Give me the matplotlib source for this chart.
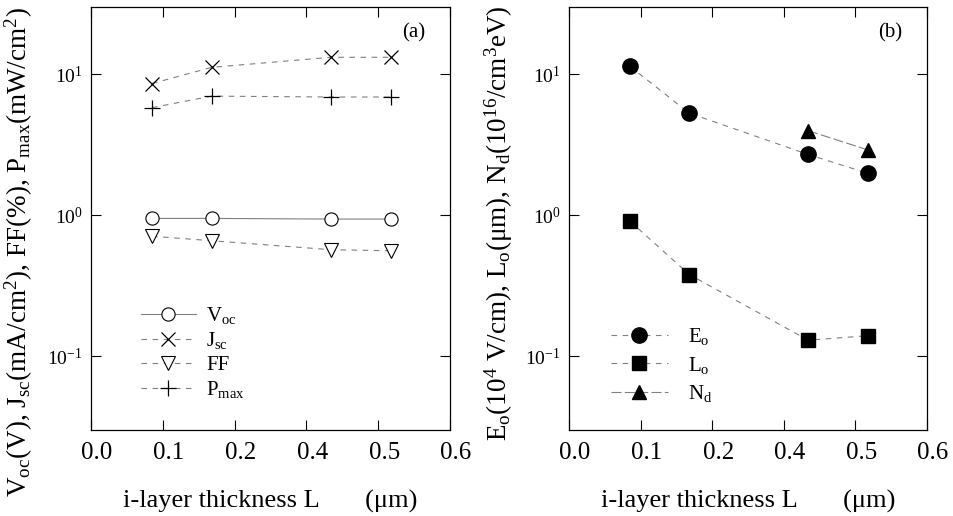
import numpy as np
import matplotlib
matplotlib.use('Agg')
import matplotlib.pyplot as plt
from matplotlib.transforms import ScaledTranslation

plt.rcParams['font.family'] = ['Liberation Serif', 'DejaVu Serif']
plt.rcParams['mathtext.fontset'] = 'custom'
plt.rcParams['mathtext.rm'] = 'Liberation Serif'
plt.rcParams['mathtext.it'] = 'Liberation Serif:italic'
plt.rcParams['mathtext.bf'] = 'Liberation Serif:bold'

# i-layer thickness (um)
thick = [0.085, 0.168, 0.434, 0.518]

# panel (a)
voc = [0.95, 0.95, 0.94, 0.94]
jsc = [8.6, 11.2, 13.2, 13.2]
ff = [0.71, 0.66, 0.57, 0.56]
pmax = [5.8, 7.0, 6.9, 6.9]

# panel (b)
e_o = [11.4, 5.3, 2.7, 1.98]
l_o = [0.91, 0.38, 0.13, 0.14]
thick_nd = [0.434, 0.518]
n_d = [3.98, 2.9]

xticks = [0.0, 0.1, 0.2, 0.4, 0.5, 0.6]
xtick_labels = ['0.0', '0.1', '0.2', '0.4', '0.5', '0.6']


# the x axis skips 0.3: 0.2..0.4 squeezed into one tick interval
def fwd(x):
    x = np.asarray(x, float)
    return np.where(x <= 0.2, x, np.where(x >= 0.4, x - 0.1, 0.2 + (x - 0.2) / 2))


def inv(y):
    y = np.asarray(y, float)
    return np.where(y <= 0.2, y, np.where(y >= 0.3, y + 0.1, 0.2 + (y - 0.2) * 2))


def setup_axis(ax, ylabel, tag, ylab_pos, ylab_size):
    ax.set_xscale('function', functions=(fwd, inv))
    ax.set_yscale('log')
    ax.set_xlim(0, 0.6)
    ax.set_ylim(0.03, 30)
    ax.set_xticks(xticks)
    ax.set_xticklabels(xtick_labels)
    ax.set_yticks([0.1, 1, 10])
    ax.yaxis.set_minor_locator(matplotlib.ticker.NullLocator())
    ax.xaxis.set_minor_locator(matplotlib.ticker.NullLocator())
    ax.tick_params(direction='in', top=True, right=True, length=7, width=0.8)
    ax.tick_params(axis='x', labelsize=18, pad=9)
    ax.tick_params(axis='y', labelsize=14, pad=6)
    shift = ScaledTranslation(6 / 100, 0, ax.figure.dpi_scale_trans)
    for lbl in ax.get_xticklabels():
        lbl.set_transform(lbl.get_transform() + shift)
    ax.set_xlabel('i-layer thickness L       (\u03bcm)', fontsize=19, labelpad=18)
    ax.set_ylabel(ylabel, fontsize=ylab_size)
    ax.yaxis.set_label_coords(*ylab_pos)
    ax.text(0.93, 0.94, tag, transform=ax.transAxes, ha='right', va='center', fontsize=15)
    for sp in ax.spines.values():
        sp.set_linewidth(0.9)


fig = plt.figure(figsize=(9.54, 5.16), dpi=100)
ax1 = fig.add_axes([0.0954, 0.1667, 0.3763, 0.8197])
ax2 = fig.add_axes([0.5964, 0.1667, 0.3753, 0.8197])

lc = '#808080'
dash = (0, (5, 5))
ax1.plot(thick, voc, color=lc, lw=0.8, ls='-', marker='o', ms=9.5, mfc='white', mec='black', mew=0.8,
         label=r'V$_{\rm oc}$')
ax1.plot(thick, jsc, color=lc, lw=0.8, ls=dash, marker='x', ms=10, mec='black', mew=0.9,
         label=r'J$_{\rm sc}$')
ax1.plot(thick, ff, color=lc, lw=0.8, ls=dash, marker='v', ms=9.5, mfc='white', mec='black', mew=0.8,
         label='FF')
ax1.plot(thick, pmax, color=lc, lw=0.8, ls=dash, marker='+', ms=11, mec='black', mew=0.9,
         label=r'P$_{\rm max}$')
setup_axis(ax1, r'V$_{\rm oc}$(V), J$_{\rm sc}$(mA/cm$^2$), FF(%), P$_{\rm max}$(mW/cm$^2$)', '(a)',
           (-0.155, 0.42), 19.5)
ax1.legend(loc='upper left', bbox_to_anchor=(0.117, 0.315), frameon=False, fontsize=15,
           handlelength=2.6, handletextpad=0.5, labelspacing=0.2, borderaxespad=0)

ax2.plot(thick, e_o, color=lc, lw=0.8, ls=dash, marker='o', ms=11, mfc='black', mec='black',
         label=r'E$_{\rm o}$')
ax2.plot(thick, l_o, color=lc, lw=0.8, ls=dash, marker='s', ms=10.5, mfc='black', mec='black',
         label=r'L$_{\rm o}$')
ax2.plot(thick_nd, n_d, color=lc, lw=0.8, ls=(0, (9, 3)), marker='^', ms=10.5, mfc='black', mec='black',
         label=r'N$_{\rm d}$')
setup_axis(ax2, 'E$_{\\rm o}$(10$^4$ V/cm), L$_{\\rm o}$(\u03bcm), N$_{\\rm d}$(10$^{16}$/cm$^3$eV)', '(b)',
           (-0.15, 0.49), 19.5)
ax2.legend(loc='upper left', bbox_to_anchor=(0.095, 0.265), frameon=False, fontsize=15,
           handlelength=2.7, handletextpad=1.0, labelspacing=0.35, borderaxespad=0)

fig.savefig('out.png', dpi=100)
